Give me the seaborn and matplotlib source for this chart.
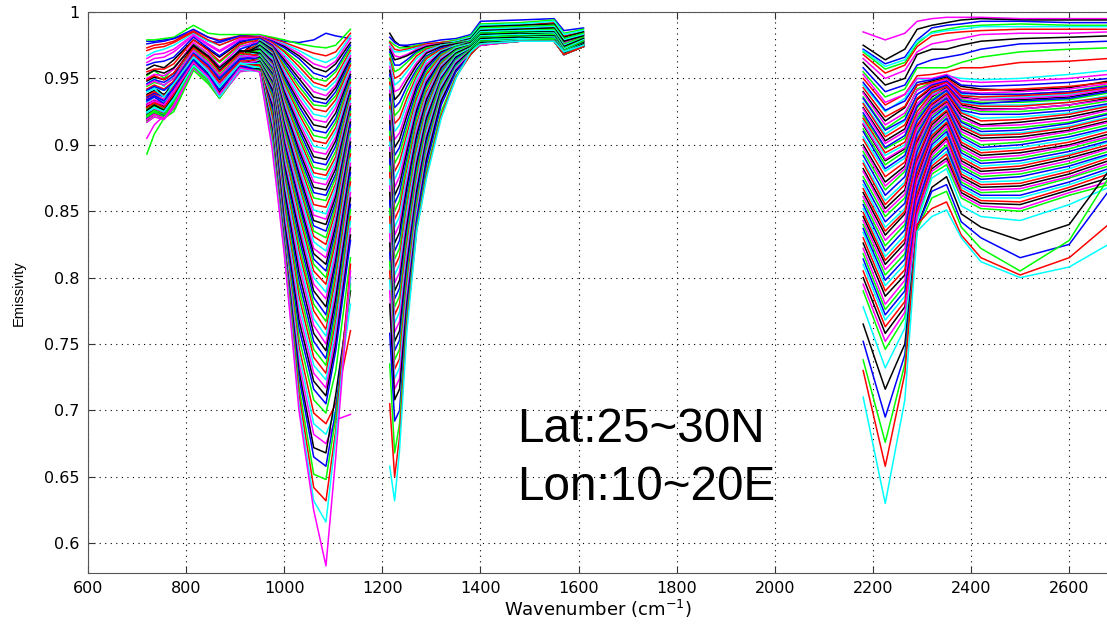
import numpy as np
import pandas as pd
import seaborn as sns
import matplotlib
matplotlib.use("Agg")
import matplotlib.pyplot as plt

# emissivity x 1000
wn_a = [720,735,755,775,815,845,868,910,950,975,1000,1030,1060,1085,1105,1135]
curves_a = [
[978,978,979,980,985,978,977,982,982,980,978,977,979,984,982,980],
[979,979,980,981,990,984,983,983,983,981,979,976,974,973,975,987],
[973,975,976,978,986,981,979,982,982,980,977,973,969,967,970,984],
[967,970,972,975,984,978,975,981,982,979,976,971,965,962,966,982],
[962,965,966,970,982,975,970,979,982,979,975,969,961,958,963,980],
[957,960,958,964,979,972,966,977,981,978,974,967,958,955,961,977],
[976,977,978,980,987,981,978,982,981,978,973,965,954,951,957,975],
[952,956,950,958,976,969,962,975,981,977,971,962,950,948,955,973],
[971,973,974,977,985,979,975,981,981,977,970,959,947,944,951,971],
[946,950,944,953,973,965,957,972,980,976,968,956,944,941,948,969],
[965,968,969,972,983,976,971,980,980,976,966,953,940,937,945,967],
[941,944,937,948,970,961,952,968,980,975,964,950,936,934,943,965],
[960,962,963,966,981,973,967,978,980,975,962,947,933,931,940,963],
[936,939,931,943,968,958,947,965,979,974,960,944,930,929,937,961],
[955,957,957,961,979,971,963,976,979,974,958,941,927,925,934,960],
[930,934,926,938,965,955,943,963,979,973,956,938,923,921,931,957],
[950,953,952,957,977,969,959,974,978,972,954,935,919,917,928,955],
[925,929,922,933,962,952,939,960,978,972,952,932,915,913,924,953],
[946,949,947,952,975,966,955,972,977,971,950,929,911,909,920,951],
[918,923,923,930,960,950,937,958,977,970,948,926,907,905,917,949],
[942,945,942,948,973,963,951,969,976,970,946,923,903,901,913,947],
[932,936,934,940,968,958,946,965,976,969,944,920,899,897,910,945],
[905,915,922,927,958,948,936,957,975,968,942,917,895,893,906,943],
[938,941,938,944,971,961,949,967,975,968,940,914,891,889,903,941],
[928,932,928,937,966,955,942,962,974,967,938,911,887,885,899,939],
[893,908,920,925,956,946,935,956,974,966,936,908,883,881,895,937],
[935,938,934,941,969,959,947,965,973,965,934,905,879,877,891,935],
[924,928,925,933,963,953,940,960,973,965,932,902,876,874,888,933],
[931,934,931,938,967,957,945,963,972,964,930,899,872,870,885,931],
[948,951,949,954,974,966,956,970,972,963,928,896,868,866,882,929],
[920,925,923,931,961,951,938,958,971,962,926,893,864,862,878,927],
[944,947,945,950,972,963,953,968,971,961,924,890,860,858,875,925],
[927,931,929,936,965,955,943,961,970,961,922,887,855,853,871,923],
[940,943,941,946,970,961,950,966,970,960,920,884,851,848,868,921],
[922,926,924,932,962,952,939,959,969,959,918,881,847,844,864,919],
[953,956,954,958,975,967,958,971,969,958,916,878,843,840,861,917],
[936,939,936,942,968,958,947,964,968,958,914,875,839,835,857,915],
[918,924,922,930,960,950,937,958,968,957,912,872,835,830,854,912],
[949,952,949,954,973,965,955,969,967,956,909,869,831,825,850,910],
[933,936,933,939,966,957,945,962,967,955,907,866,827,820,846,908],
[945,948,945,950,971,962,952,967,966,954,905,862,822,815,843,905],
[929,933,930,936,964,954,942,960,966,954,902,858,818,810,839,902],
[941,944,941,947,969,960,950,965,965,953,900,855,814,805,835,899],
[926,929,926,934,962,952,940,959,965,952,897,851,810,800,831,896],
[937,940,937,944,968,958,947,963,964,951,894,847,805,795,827,893],
[922,926,923,931,960,950,938,958,964,950,891,843,800,789,822,890],
[934,937,934,941,966,956,945,961,963,949,888,839,795,784,818,886],
[919,923,921,929,959,948,936,956,963,948,885,835,790,778,813,883],
[930,933,930,938,964,954,943,960,962,947,882,830,785,772,809,879],
[917,921,920,927,958,947,935,956,962,946,879,825,780,767,804,875],
[927,930,927,935,963,953,941,959,961,945,876,820,775,761,799,872],
[933,936,932,939,965,955,944,961,961,944,873,815,769,756,794,868],
[924,927,924,933,961,951,940,958,960,943,869,810,764,750,789,864],
[930,933,929,937,964,954,942,960,960,942,866,804,758,745,784,860],
[921,925,922,931,960,950,938,957,959,940,862,798,752,739,778,855],
[927,930,927,935,962,952,941,959,959,938,858,792,746,734,773,851],
[919,923,920,929,959,949,937,956,958,936,854,786,740,728,767,846],
[925,928,925,933,961,951,940,958,958,934,850,780,734,723,762,842],
[917,921,919,928,958,948,936,955,957,932,846,774,728,717,756,837],
[923,926,923,932,960,950,939,957,957,930,842,768,722,711,750,832],
[933,936,931,939,964,953,943,960,956,928,838,762,716,705,745,828],
[921,925,921,931,959,949,938,956,956,925,834,755,708,698,730,815],
[928,932,928,938,963,952,940,960,960,922,832,748,698,690,705,760],
[940,942,936,946,966,955,943,961,958,918,830,742,690,682,700,780],
[919,923,920,930,958,948,937,956,956,915,828,736,682,675,693,697],
[926,930,926,936,961,950,939,958,957,912,826,730,672,668,712,790],
[934,937,933,943,964,952,941,959,956,910,826,725,665,658,700,800],
[922,926,923,933,959,948,937,957,956,908,824,718,652,648,695,795],
[930,933,930,940,962,951,938,958,955,905,822,712,642,632,685,810],
[924,928,925,935,960,950,936,957,955,902,820,705,632,616,680,800],
[930,933,930,940,962,951,938,958,955,898,818,700,625,583,665,805],
]

wn_b = [1215,1225,1235,1250,1270,1290,1320,1350,1380,1400,1480,1550,1570,1610]
curves_b = [
[984,978,975,974,974,975,977,978,980,985,987,988,978,983],
[981,977,975,975,976,977,979,980,983,993,994,995,986,988],
[978,975,973,973,975,976,977,979,982,991,992,994,984,987],
[977,972,971,972,974,976,977,978,981,988,990,992,982,985],
[975,970,970,971,973,975,976,978,981,990,991,993,983,986],
[974,967,966,968,972,975,976,977,980,986,989,990,980,984],
[972,964,965,967,971,974,976,977,980,989,990,991,981,985],
[970,960,960,964,970,973,975,977,979,984,988,989,979,983],
[968,955,957,962,969,973,975,977,979,988,989,990,980,984],
[965,950,952,958,967,972,975,976,979,983,987,988,978,982],
[962,945,948,955,965,971,975,976,979,987,988,989,979,983],
[959,940,942,951,962,970,974,976,978,982,986,987,977,981],
[956,934,938,948,960,969,974,976,978,986,987,988,978,982],
[953,928,932,944,957,967,973,975,978,981,985,986,976,980],
[950,922,926,940,955,966,972,975,978,985,986,987,976,981],
[947,916,920,935,952,965,972,975,977,980,984,985,975,979],
[944,910,915,931,950,963,971,975,977,985,986,986,975,980],
[941,904,909,926,947,961,970,974,977,979,984,984,974,979],
[938,898,904,922,944,959,970,974,977,984,985,985,974,980],
[935,892,898,917,941,957,969,974,976,979,983,984,973,978],
[932,886,893,913,938,955,968,974,976,984,985,984,973,979],
[929,880,887,908,935,953,967,973,976,978,983,983,972,978],
[926,874,882,904,932,951,966,973,976,983,984,984,972,979],
[922,868,876,899,929,949,965,972,975,978,982,983,971,977],
[918,862,870,895,926,947,964,972,975,983,984,983,971,978],
[914,856,864,890,923,945,963,971,975,977,982,982,971,977],
[910,850,858,886,920,943,962,971,975,982,983,983,971,978],
[906,844,852,881,916,940,961,970,974,977,981,982,970,976],
[902,838,846,877,913,938,960,970,974,982,983,982,970,977],
[898,832,840,872,910,936,959,969,974,976,981,981,970,976],
[894,826,834,868,907,934,958,969,974,981,982,982,970,977],
[889,820,828,863,903,931,956,968,973,976,980,981,969,975],
[884,814,822,858,900,929,955,968,973,981,982,981,970,976],
[879,808,816,853,896,927,954,967,973,976,980,980,969,975],
[874,802,810,849,893,925,953,967,973,980,981,981,970,976],
[869,796,804,844,889,922,951,966,972,975,980,980,969,975],
[864,790,798,839,886,920,950,966,972,980,981,980,969,976],
[858,784,792,834,882,917,949,965,972,975,979,980,969,975],
[852,778,786,830,879,915,948,964,972,979,980,980,969,975],
[846,772,780,825,875,912,946,963,971,975,979,979,968,974],
[840,766,774,820,872,910,945,963,971,979,980,979,969,975],
[833,759,767,815,868,907,943,962,971,975,979,979,968,974],
[826,752,760,810,865,905,942,961,971,978,979,979,969,975],
[819,745,753,805,861,902,940,960,970,975,978,979,968,974],
[812,738,746,800,857,899,939,959,970,978,979,979,968,975],
[805,731,739,795,853,896,937,958,969,975,978,978,968,974],
[798,724,732,790,850,894,936,958,969,977,979,978,968,974],
[790,716,724,785,846,891,934,957,969,975,978,978,968,974],
[780,708,716,780,843,889,933,956,968,977,978,978,968,974],
[758,692,700,775,842,885,930,955,968,976,978,978,968,974],
[735,668,690,770,838,880,925,952,968,976,978,978,968,974],
[705,650,680,765,836,877,922,951,968,976,978,978,968,974],
[658,632,670,760,835,875,920,950,970,976,978,978,970,975],
]

wn_c = [2180,2225,2265,2290,2320,2350,2380,2420,2500,2600,2680]
curves_c = [
[985,979,984,993,995,996,996,996,995,995,995],
[975,964,972,987,990,992,994,995,994,994,994],
[972,961,966,979,988,990,991,993,993,992,992],
[970,957,962,976,985,987,989,990,991,990,990],
[968,954,960,974,982,984,985,986,987,987,987],
[971,959,964,978,984,986,987,989,989,989,989],
[965,950,956,970,976,978,980,983,984,984,985],
[962,945,950,968,972,972,975,978,980,981,982],
[958,940,945,960,964,966,968,972,976,977,978],
[955,936,942,958,958,958,962,966,970,972,973],
[950,930,938,952,953,955,958,958,962,963,965],
[945,925,935,950,948,952,950,949,950,953,956],
[953,932,938,950,950,953,948,947,948,950,953],
[940,918,928,945,948,951,944,942,941,943,948],
[947,926,933,947,949,952,945,944,945,947,950],
[936,912,922,942,947,950,940,938,938,940,945],
[943,921,929,945,947,950,942,941,942,944,947],
[932,908,918,938,945,948,938,936,936,938,943],
[939,915,924,941,946,949,940,939,940,942,946],
[928,903,912,934,943,947,936,934,934,936,941],
[935,911,919,938,945,948,939,938,938,940,944],
[922,897,905,928,940,945,934,932,932,934,939],
[931,906,915,935,944,947,937,936,937,939,943],
[918,892,900,925,938,943,932,930,930,932,937],
[927,901,910,931,942,946,935,934,935,937,942],
[915,888,897,922,936,943,930,927,927,930,935],
[924,898,907,929,941,945,933,931,933,935,940],
[912,885,895,920,934,942,928,925,925,928,933],
[920,894,902,925,939,944,931,929,929,932,936],
[906,880,890,918,932,940,925,920,921,924,930],
[916,889,898,922,937,942,929,926,927,930,934],
[900,872,884,914,930,938,922,915,917,921,927],
[910,882,892,918,933,941,926,923,923,926,931],
[895,866,880,910,928,936,918,912,913,917,924],
[904,876,887,915,931,939,924,918,919,923,929],
[888,858,872,905,926,934,915,908,909,914,921],
[898,869,882,912,929,937,920,914,915,919,926],
[882,852,866,902,924,932,912,905,906,911,918],
[892,862,876,908,927,935,917,910,911,916,923],
[876,846,860,898,922,930,908,900,902,908,915],
[886,855,870,904,925,933,914,907,908,913,920],
[870,838,852,892,918,928,904,896,898,904,912],
[880,849,863,900,923,931,910,903,904,910,917],
[864,832,848,888,915,925,900,892,894,900,908],
[873,842,856,895,920,929,906,898,900,906,913],
[858,824,840,884,912,922,896,888,890,897,905],
[867,835,850,890,917,926,902,894,896,902,910],
[852,816,832,880,908,919,892,884,886,893,902],
[861,828,843,886,913,923,898,890,892,899,906],
[846,810,826,875,905,916,888,880,882,890,898],
[855,820,836,882,910,920,894,886,888,895,903],
[840,802,818,870,902,912,884,876,878,886,895],
[849,813,829,878,907,917,890,882,884,892,900],
[834,794,810,865,898,908,880,872,873,882,892],
[843,806,822,873,903,914,886,878,880,888,897],
[826,786,802,860,894,905,876,868,869,878,888],
[837,798,814,868,900,910,882,874,876,884,893],
[818,776,794,855,890,900,872,864,865,875,884],
[830,790,806,863,896,906,878,870,871,880,890],
[810,768,786,852,886,895,868,860,860,870,880],
[822,780,798,858,892,903,874,866,867,876,886],
[800,758,778,848,882,890,864,856,855,866,875],
[814,772,790,854,888,898,870,862,862,872,882],
[790,746,770,845,878,885,860,852,850,862,870],
[805,763,782,850,884,893,866,858,857,868,878],
[778,732,762,842,875,882,854,846,843,855,868],
[795,752,774,847,880,888,862,854,852,864,872],
[765,716,750,838,868,876,848,838,828,840,880],
[752,695,742,838,865,870,842,830,815,825,865],
[738,676,735,836,860,865,838,822,805,828,875],
[730,658,728,840,852,857,832,815,802,815,840],
[710,630,708,835,846,851,830,812,800,808,825],
]

line_colors = ["blue", "lime", "red", "cyan", "magenta", "black"]
x_ticks = [600,800,1000,1200,1400,1600,1800,2000,2200,2400,2600]
y_ticks = [0.6,0.65,0.7,0.75,0.8,0.85,0.9,0.95,1]
y_labels = ["0.6","0.65","0.7","0.75","0.8","0.85","0.9","0.95","1"]

rows = []
curve_id = 0
for wn, curves in [(wn_a, curves_a), (wn_b, curves_b), (wn_c, curves_c)]:
    for c in curves:
        for w, v in zip(wn, c):
            rows.append((curve_id, w, v / 1000))
        curve_id += 1
df = pd.DataFrame(rows, columns=["curve", "wavenumber", "emissivity"])
pal = [line_colors[i % 6] for i in range(curve_id)]

fig = plt.figure(figsize=(11.07, 6.25), dpi=100)
ax = fig.add_axes([88/1107, 1-573/625, 1019/1107, 561/625])
sns.lineplot(data=df, x="wavenumber", y="emissivity", hue="curve", palette=pal,
             estimator=None, sort=False, legend=False, lw=1.1, ax=ax, zorder=3)
ax.set_xlim(600, 2677)
ax.set_ylim(0.5776, 1.0)
ax.set_xticks(x_ticks)
ax.set_yticks(y_ticks)
ax.set_yticklabels(y_labels)
ax.grid(True, color="black", linestyle=(0, (1, 4)), lw=0.8)
ax.tick_params(direction="in", length=5, top=True, color="#333333", labelsize=11.5, pad=6)
ax.spines["right"].set_visible(False)
for s in ["left", "bottom", "top"]:
    ax.spines[s].set_color("#555555")
ax.set_xlabel("Wavenumber (cm$^{-1}$)", fontsize=13, labelpad=1)
ax.set_ylabel("")
fig.text(19/1107, 1-293/625, "Emissivity", rotation=90, family="Liberation Sans",
         fontsize=10.5, ha="center", va="center")
fig.text(517/1107, 1-430/625, "Lat:25~30N", family="Liberation Sans", fontsize=34.3, va="center")
fig.text(517/1107, 1-488/625, "Lon:10~20E", family="Liberation Sans", fontsize=34.3, va="center")
fig.savefig("out.png", dpi=100)
